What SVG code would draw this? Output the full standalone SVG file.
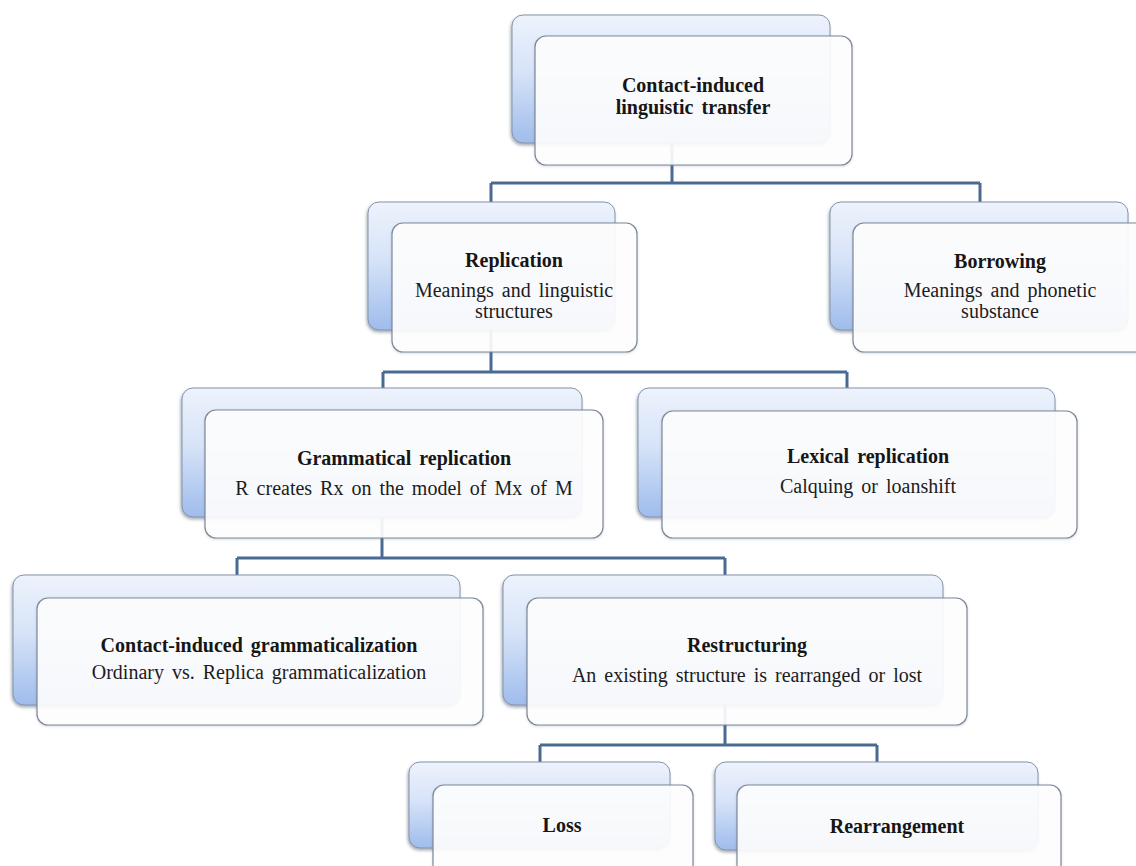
<svg xmlns="http://www.w3.org/2000/svg" width="1136" height="866" viewBox="0 0 1136 866">
  <defs>
    <linearGradient id="backFill" x1="0" y1="0" x2="0" y2="1">
      <stop offset="0" stop-color="#eef3fc"/>
      <stop offset="0.45" stop-color="#d6e3f8"/>
      <stop offset="1" stop-color="#9fbcec"/>
    </linearGradient>
    <filter id="backShadow" x="-5%" y="-5%" width="110%" height="115%">
      <feDropShadow dx="-1" dy="2" stdDeviation="1.5" flood-color="#3a4a63" flood-opacity="0.45"/>
    </filter>
    <filter id="frontShadow" x="-5%" y="-5%" width="110%" height="115%">
      <feDropShadow dx="0" dy="1" stdDeviation="1" flood-color="#5b6b80" flood-opacity="0.25"/>
    </filter>
  </defs>
  <style>
    .back { fill: url(#backFill); stroke: #8493aa; stroke-width: 1; filter: url(#backShadow); }
    .front { fill: #ffffff; fill-opacity: 0.9; stroke: #7d8898; stroke-width: 1.2; filter: url(#frontShadow); }
    .conn { fill: none; stroke: #4b6a93; stroke-width: 3; }
    .title { font-family: "Liberation Serif", "Times New Roman", serif; font-weight: bold; font-size: 20px; fill: #161616; text-anchor: middle; word-spacing: 3px; }
    .sub { font-family: "Liberation Serif", "Times New Roman", serif; font-size: 20px; fill: #1c1c1c; text-anchor: middle; word-spacing: 3px; }
  </style>

  <rect width="1136" height="866" fill="#ffffff"/>

  <!-- connectors: elbow lines from each parent to its children -->
  <g id="connectors">
    <path class="conn" d="M672 143 V183 M491 183 H980 M491 183 V202 M980 183 V202"/>
    <path class="conn" d="M491 330 V372 M383 372 H847 M383 372 V388 M847 372 V388"/>
    <path class="conn" d="M382 517 V558 M237 558 H725 M237 558 V575 M725 558 V575"/>
    <path class="conn" d="M725 705 V745 M540 745 H877 M540 745 V762 M877 745 V762"/>
  </g>

  <g id="node-transfer">
    <rect class="back" x="512" y="15" width="318" height="128" rx="11"/>
    <rect class="front" x="535" y="36" width="317" height="129" rx="11"/>
    <text class="title" x="693" y="92">Contact-induced</text>
    <text class="title" x="693" y="114">linguistic transfer</text>
  </g>

  <g id="node-replication">
    <rect class="back" x="368" y="202" width="247" height="128" rx="11"/>
    <rect class="front" x="392" y="223" width="245" height="129" rx="11"/>
    <text class="title" x="514" y="267">Replication</text>
    <text class="sub" x="514" y="297">Meanings  and linguistic</text>
    <text class="sub" x="514" y="318">structures</text>
  </g>

  <g id="node-borrowing">
    <rect class="back" x="830" y="202" width="298" height="128" rx="11"/>
    <rect class="front" x="853" y="223" width="294" height="129" rx="11"/>
    <text class="title" x="1000" y="268">Borrowing</text>
    <text class="sub" x="1000" y="297">Meanings  and phonetic</text>
    <text class="sub" x="1000" y="318">substance</text>
  </g>

  <g id="node-grammatical">
    <rect class="back" x="182" y="388" width="400" height="129" rx="11"/>
    <rect class="front" x="205" y="410" width="398" height="128" rx="11"/>
    <text class="title" x="404" y="465">Grammatical  replication</text>
    <text class="sub" x="404" y="495">R creates Rx on the model of Mx of M</text>
  </g>

  <g id="node-lexical">
    <rect class="back" x="638" y="388" width="417" height="129" rx="11"/>
    <rect class="front" x="662" y="411" width="415" height="127" rx="11"/>
    <text class="title" x="868" y="463">Lexical replication</text>
    <text class="sub" x="868" y="493">Calquing  or loanshift</text>
  </g>

  <g id="node-grammaticalization">
    <rect class="back" x="13" y="575" width="447" height="130" rx="11"/>
    <rect class="front" x="37" y="598" width="446" height="127" rx="11"/>
    <text class="title" x="259" y="652">Contact-induced  grammaticalization</text>
    <text class="sub" x="259" y="679">Ordinary  vs. Replica  grammaticalization</text>
  </g>

  <g id="node-restructuring">
    <rect class="back" x="503" y="575" width="440" height="130" rx="11"/>
    <rect class="front" x="527" y="598" width="440" height="127" rx="11"/>
    <text class="title" x="747" y="652">Restructuring</text>
    <text class="sub" x="747" y="682">An existing  structure is rearranged or lost</text>
  </g>

  <g id="node-loss">
    <rect class="back" x="409" y="762" width="261" height="86" rx="11"/>
    <rect class="front" x="433" y="785" width="260" height="100" rx="11"/>
    <text class="title" x="562" y="832">Loss</text>
  </g>

  <g id="node-rearrangement">
    <rect class="back" x="715" y="762" width="323" height="88" rx="11"/>
    <rect class="front" x="737" y="785" width="324" height="100" rx="11"/>
    <text class="title" x="897" y="833">Rearrangement</text>
  </g>
</svg>
